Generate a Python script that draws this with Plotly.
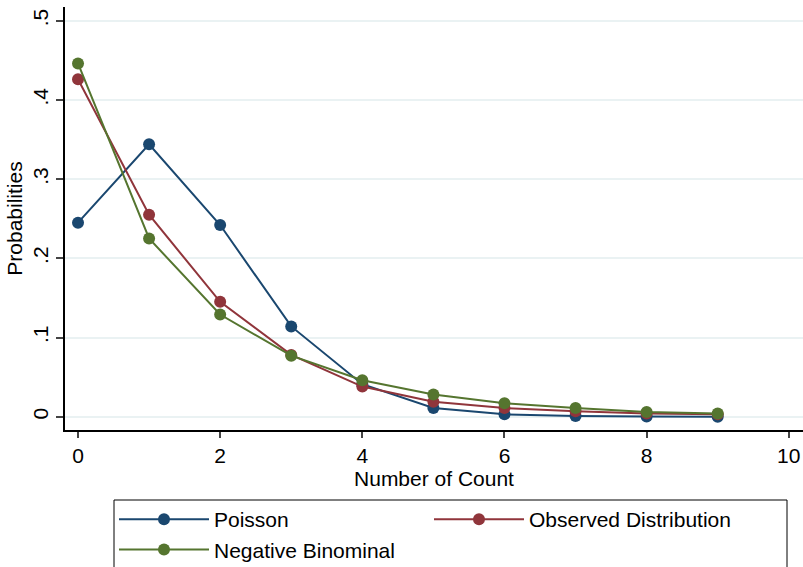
import plotly.graph_objects as go

counts = [0, 1, 2, 3, 4, 5, 6, 7, 8, 9]
poisson = [0.245, 0.344, 0.242, 0.114, 0.041, 0.011, 0.003, 0.001, 0.0002, 0.0]
observed = [0.426, 0.255, 0.145, 0.078, 0.038, 0.019, 0.011, 0.007, 0.004, 0.003]
negbin = [0.446, 0.225, 0.129, 0.077, 0.046, 0.028, 0.017, 0.011, 0.006, 0.004]

y_tickvals = [0, 0.1, 0.2, 0.3, 0.4, 0.5]
y_ticktext = ["0", ".1", ".2", ".3", ".4", ".5"]
x_tickvals = [0, 2, 4, 6, 8, 10]

series = [
    ("Poisson", poisson, "#1a476f"),
    ("Observed Distribution", observed, "#90353b"),
    ("Negative Binominal", negbin, "#55752f"),
]

FONT = "Liberation Sans, Arial, Helvetica, sans-serif"
W, H = 803, 567
ML, MR, MT, MB = 65, 0, 7, 137
PW, PH = W - ML - MR, H - MT - MB


def px_to_paper_x(px):
    return (px - ML) / PW


def px_to_paper_y(py):
    return (H - MB - py) / PH


fig = go.Figure()
for name, vals, color in series:
    fig.add_trace(go.Scatter(
        x=counts, y=vals, name=name, mode="lines+markers",
        line=dict(color=color, width=2),
        marker=dict(color=color, size=12),
    ))

# legend frame (extends past the bottom edge, as in the reference)
fig.add_shape(
    type="rect", xref="paper", yref="paper",
    x0=px_to_paper_x(114), x1=px_to_paper_x(787),
    y0=px_to_paper_y(500), y1=px_to_paper_y(590),
    line=dict(color="black", width=1), fillcolor="rgba(0,0,0,0)",
    layer="above",
)

fig.update_layout(
    width=W, height=H, autosize=False,
    margin=dict(l=ML, r=MR, t=MT, b=MB),
    paper_bgcolor="white", plot_bgcolor="white",
    font=dict(family=FONT, size=21, color="black"),
    showlegend=True,
    legend=dict(
        orientation="h", xref="container", yref="container",
        x=114 / W, xanchor="left", y=1 - 499 / H, yanchor="top",
        borderwidth=0, bgcolor="rgba(0,0,0,0)",
        font=dict(family=FONT, size=21, color="black"),
        itemwidth=90, entrywidth=210, entrywidthmode="pixels",
        traceorder="normal",
    ),
    xaxis=dict(
        range=[-0.183, 10.2], tickvals=x_tickvals, showgrid=False, zeroline=False,
        automargin=False,
        showline=True, linecolor="black", linewidth=1.5,
        ticks="outside", ticklen=6, tickcolor="#444", tickwidth=1.5,
        tickfont=dict(family=FONT, size=21),
        title=dict(text="Number of Count", standoff=0, font=dict(family=FONT, size=21)),
    ),
    yaxis=dict(
        range=[-0.0168, 0.5173], tickvals=y_tickvals, ticktext=y_ticktext,
        automargin=False,
        showgrid=True, gridcolor="#eaf2f3", gridwidth=1.5, zeroline=False,
        showline=True, linecolor="black", linewidth=1.5,
        ticks="outside", ticklen=7, tickcolor="#444", tickwidth=1.5,
        tickangle=-90, tickfont=dict(family=FONT, size=21),
        title=dict(text="Probabilities", standoff=0, font=dict(family=FONT, size=21)),
    ),
)

fig.write_html(
    "out.html",
    config={"displayModeBar": False},
    post_script="document.body.style.margin='0';document.body.style.overflow='hidden';",
)
